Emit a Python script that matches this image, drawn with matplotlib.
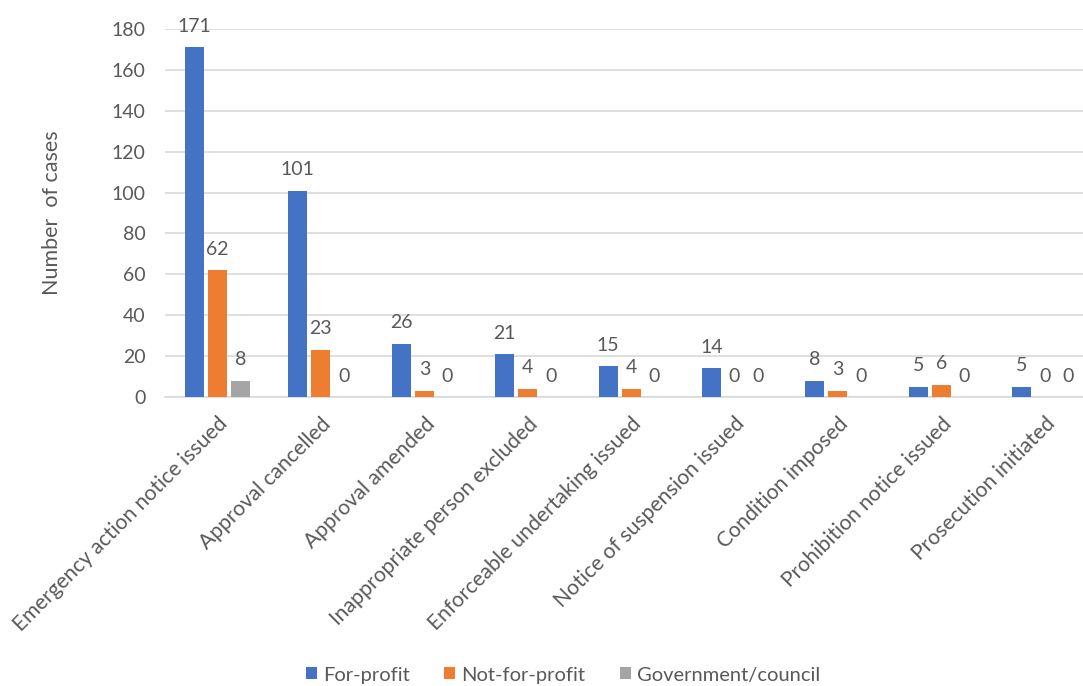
import matplotlib
matplotlib.use("Agg")
import matplotlib.pyplot as plt
import numpy as np

categories = ["Emergency action notice issued", "Approval cancelled", "Approval amended",
              "Inappropriate person excluded", "Enforceable undertaking issued",
              "Notice of suspension issued", "Condition imposed",
              "Prohibition notice issued", "Prosecution initiated"]
for_profit = [171, 101, 26, 21, 15, 14, 8, 5, 5]
not_for_profit = [62, 23, 3, 4, 4, 0, 3, 6, 0]
government = [8, 0, 0, 0, 0, 0, 0, 0, 0]
series_names = ["For-profit", "Not-for-profit", "Government/council"]
colors = ["#4472C4", "#ED7D31", "#A5A5A5"]
yticks = list(range(0, 181, 20))

plt.rcParams['font.family'] = ['Lato', 'DejaVu Sans']
txt = "#595959"
fs = 14

fig = plt.figure(figsize=(10.83, 6.86), dpi=100)
ax = fig.add_axes([165 / 1083, 1 - 397 / 686, 1 - 165 / 1083, (397 - 29) / 686])

x = np.arange(len(categories))
w = 0.184
gap = 0.039
offsets = [-(w + gap), 0, (w + gap)]
for data, name, c, off in zip([for_profit, not_for_profit, government], series_names, colors, offsets):
    ax.bar(x + off, data, width=w, color=c, label=name, zorder=3)
    for xi, v in zip(x + off, data):
        ax.annotate(str(v), (xi, v), xytext=(0, 9), textcoords="offset points",
                    ha="center", va="bottom", fontsize=fs, color=txt)

ax.set_xlim(-0.508, 8.37)
ax.set_ylim(0, 180)
ax.set_yticks(yticks)
ax.yaxis.grid(True, color="#D9D9D9", linewidth=1.2, zorder=0)
ax.set_axisbelow(True)
for s in ["top", "right", "left"]:
    ax.spines[s].set_visible(False)
ax.spines["bottom"].set_color("#D9D9D9")
ax.spines["bottom"].set_linewidth(1.2)
ax.tick_params(axis="both", length=0, colors=txt, labelsize=fs)
ax.tick_params(axis="y", pad=14)
ax.set_xticks(x)
ax.set_xticklabels(categories, rotation=45, ha="right", rotation_mode="anchor", fontsize=15.2)
ax.tick_params(axis="x", pad=12)
ax.set_ylabel("Number  of cases", color=txt, fontsize=15.5, labelpad=36)

leg = fig.legend(loc="center", bbox_to_anchor=(563 / 1083, 1 - 675 / 686), ncol=3, frameon=False,
                 prop={'size': 14.5}, handlelength=0.55, handleheight=0.55, handletextpad=0.3,
                 columnspacing=1.7)
for t in leg.get_texts():
    t.set_color(txt)

fig.savefig("out.png", dpi=100)
